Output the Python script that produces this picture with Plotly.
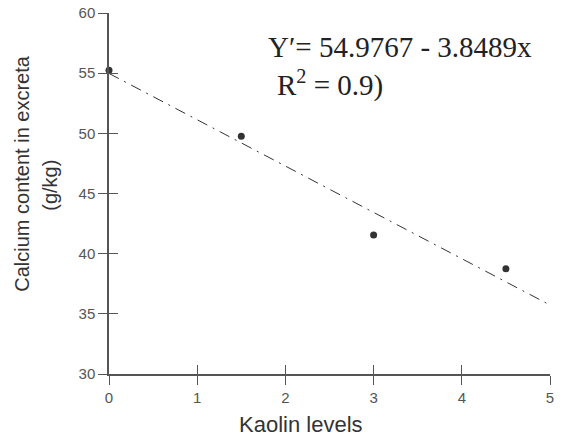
import plotly.graph_objects as go

kaolin = [0, 1.5, 3, 4.5]
calcium = [55.25, 49.75, 41.55, 38.75]
intercept = 54.9767
slope = -3.8489
line_x = [0, 5]
line_y = [intercept + slope * v for v in line_x]
x_ticks = [0, 1, 2, 3, 4, 5]
y_ticks = [30, 35, 40, 45, 50, 55, 60]

axis_color = "#555555"
title_font = dict(family="Liberation Sans, Arial", size=20, color="#333333")
fig = go.Figure()
fig.add_trace(go.Scatter(x=line_x, y=line_y, mode="lines",
                         line=dict(color="#333333", width=1, dash="11px,6px,2px,6px"),
                         showlegend=False, hoverinfo="skip"))
fig.add_trace(go.Scatter(x=kaolin, y=calcium, mode="markers",
                         marker=dict(symbol="circle", size=7, color="#333333"),
                         cliponaxis=False, showlegend=False))
# invisible trace for the inner-tick overlay axes
fig.add_trace(go.Scatter(x=line_x, y=line_y, xaxis="x2", yaxis="y2", mode="lines",
                         line=dict(width=0), showlegend=False, hoverinfo="skip",
                         opacity=0))

tickfont = dict(family="Liberation Sans, Arial", size=15, color="#555555")
common = dict(showgrid=False, zeroline=False, showline=True, linecolor=axis_color,
              linewidth=1.5, tickcolor=axis_color, tickwidth=1.2, ticklen=9,
              automargin=False)

fig.update_layout(
    width=564, height=439,
    margin=dict(l=109, r=14, t=13, b=65),
    paper_bgcolor="white", plot_bgcolor="white",
    xaxis=dict(range=[0, 5], tickvals=x_ticks, ticks="outside", tickfont=tickfont, **common),
    yaxis=dict(range=[30, 60], tickvals=y_ticks, ticks="outside", tickfont=tickfont, **common),
    xaxis2=dict(range=[0, 5], tickvals=x_ticks, ticks="inside", showticklabels=False,
                overlaying="x", anchor="y2", **common),
    yaxis2=dict(range=[30, 60], tickvals=y_ticks, ticks="inside", showticklabels=False,
                overlaying="y", anchor="x2", **common),
    annotations=[
        dict(text="Y′= 54.9767 - 3.8489x", xref="paper", yref="paper", x=0.355, y=0.905,
             xanchor="left", yanchor="middle", showarrow=False,
             font=dict(family="Liberation Serif, Times New Roman", size=29, color="#222222")),
        dict(text="R<sup>2</sup> = 0.9)", xref="paper", yref="paper", x=0.377, y=0.805,
             xanchor="left", yanchor="middle", showarrow=False,
             font=dict(family="Liberation Serif, Times New Roman", size=29, color="#222222")),
        dict(text="Kaolin levels", xref="paper", yref="paper", x=0.435, y=-0.141,
             xanchor="center", yanchor="middle", showarrow=False,
             font=dict(family="Liberation Sans, Arial", size=22, color="#333333")),
        dict(text="Calcium content in excreta", xref="paper", yref="paper", x=-0.197, y=0.555,
             xanchor="center", yanchor="middle", showarrow=False, textangle=-90,
             font=title_font),
        dict(text="(g/kg)", xref="paper", yref="paper", x=-0.134, y=0.524,
             xanchor="center", yanchor="middle", showarrow=False, textangle=-90,
             font=title_font),
    ],
)
fig.write_html("out.html", post_script="document.body.style.margin='0';",
               config={"displayModeBar": False})
